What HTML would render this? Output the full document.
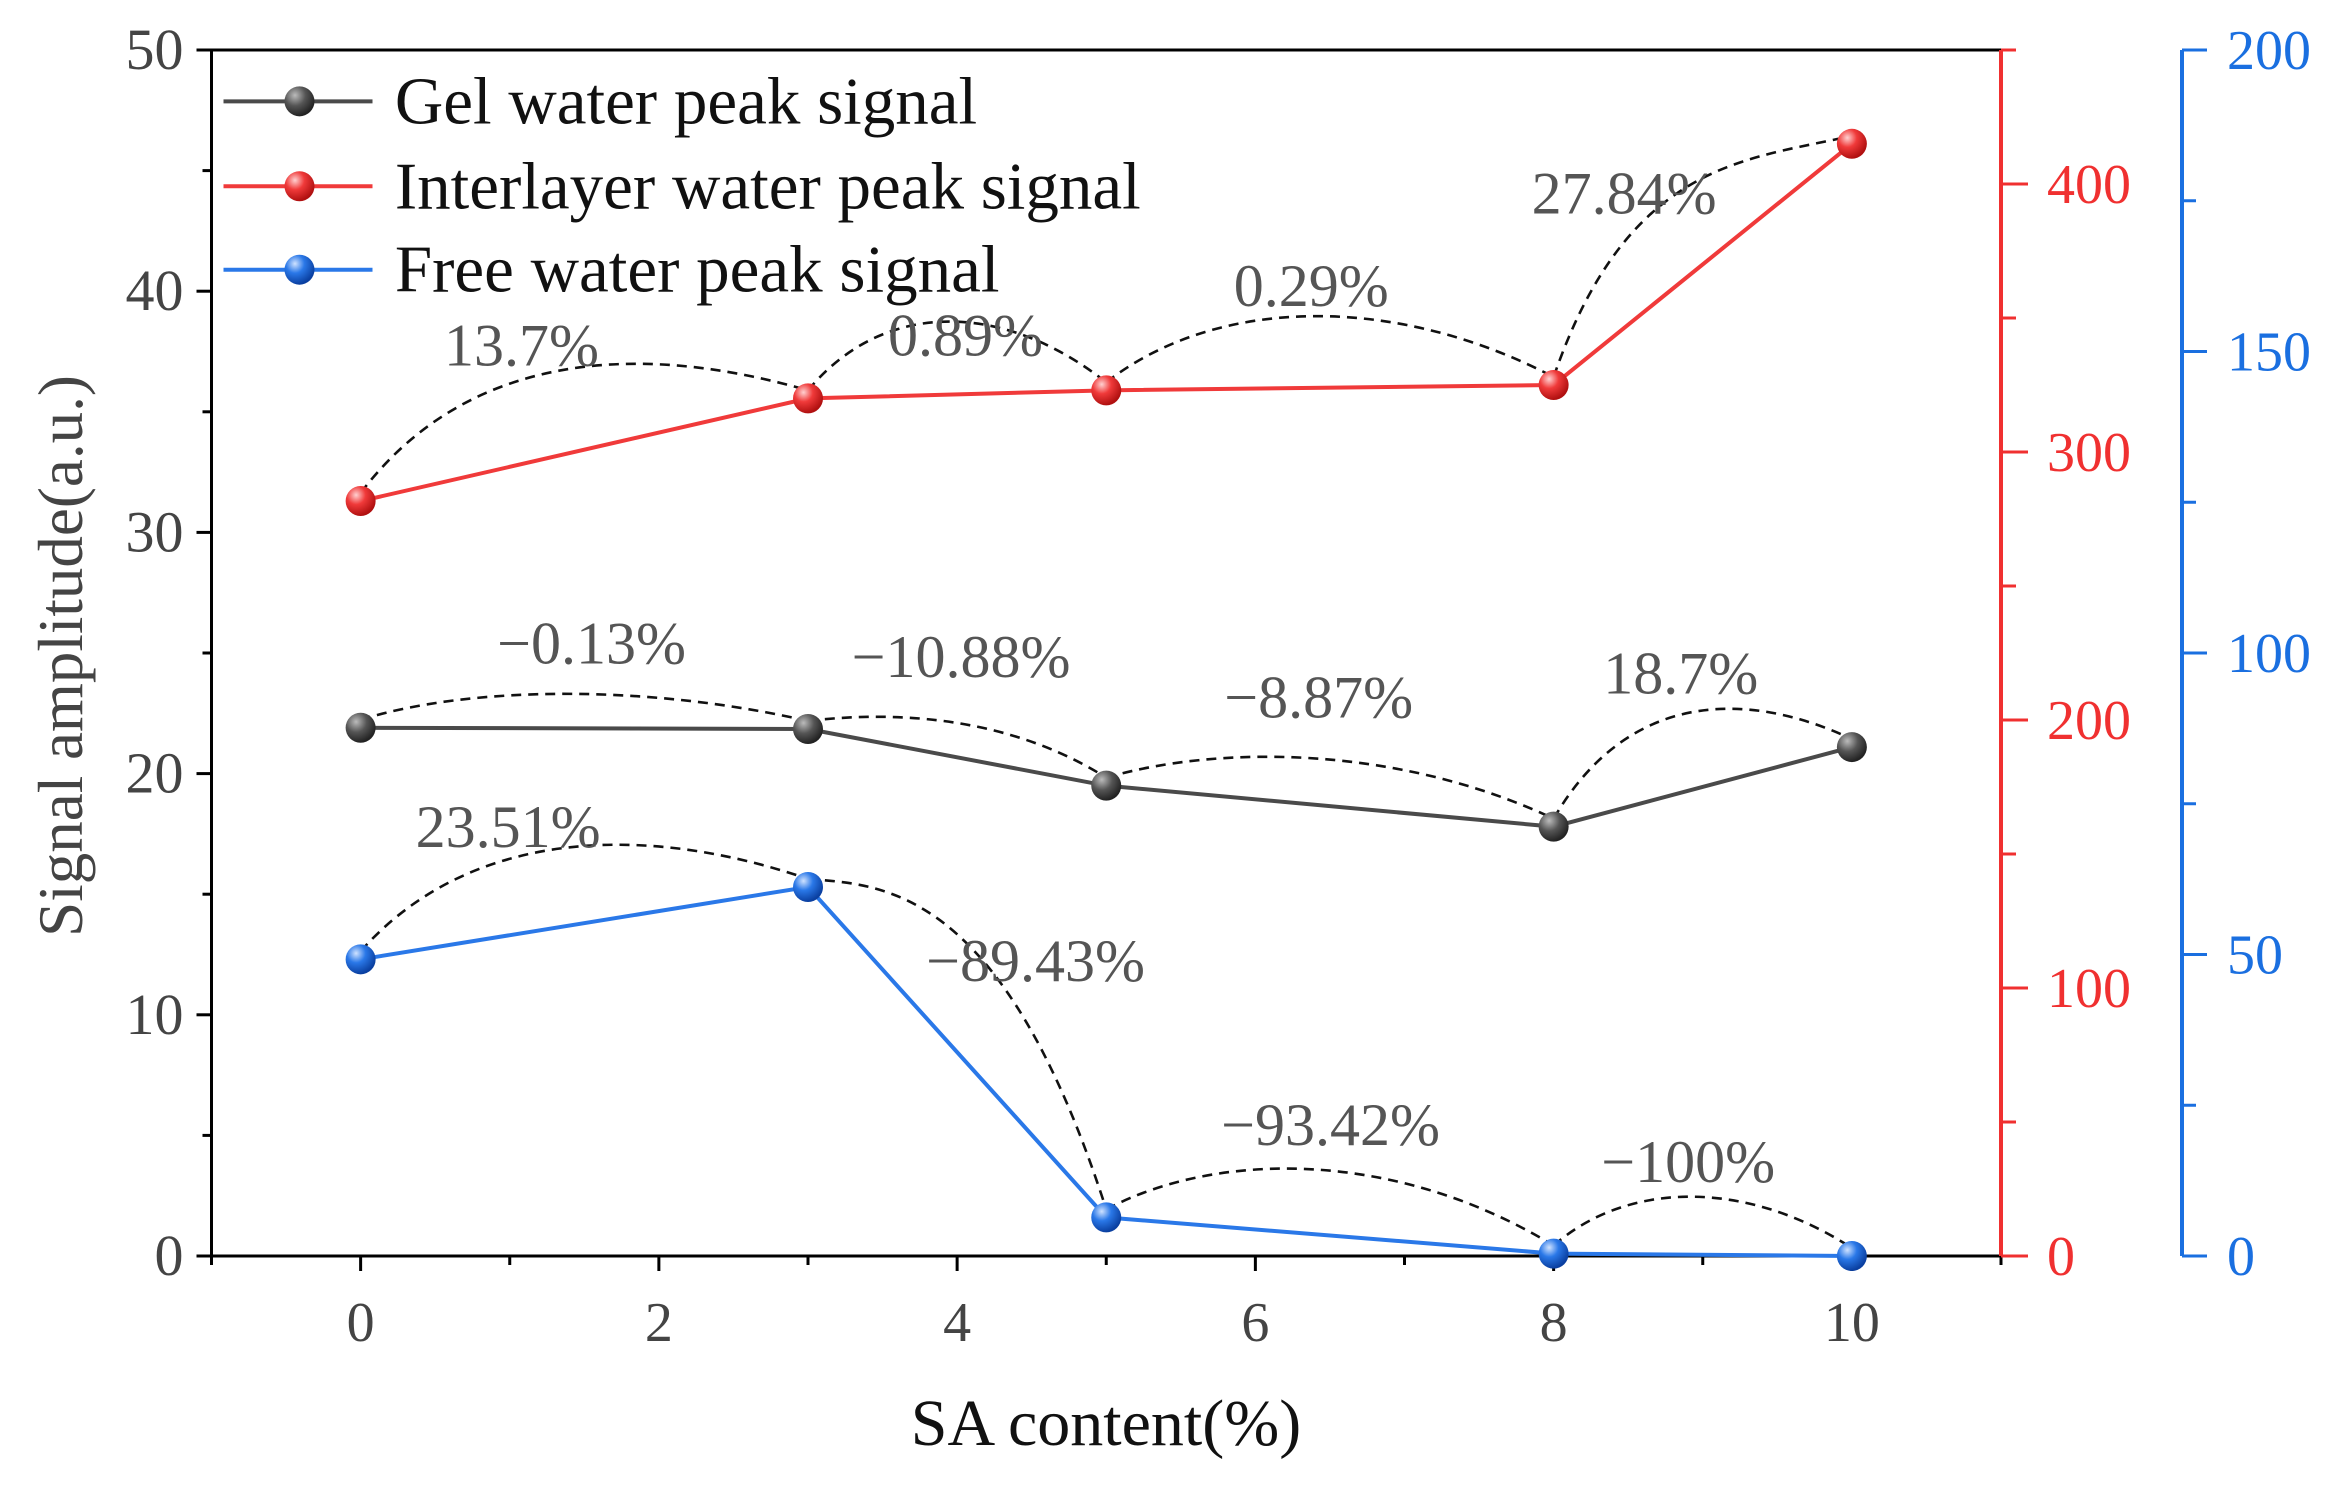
<!DOCTYPE html>
<html><head><meta charset="utf-8"><style>
html,body{margin:0;padding:0;background:#fff}
svg{display:block}
text{font-family:"Liberation Serif",serif}
</style></head><body>
<svg id="chart" width="2336" height="1493" viewBox="0 0 2336 1493" xmlns="http://www.w3.org/2000/svg">
<defs>
<radialGradient id="gGel" cx="35%" cy="30%" r="70%"><stop offset="0" stop-color="#bbb"/><stop offset="0.5" stop-color="#555"/><stop offset="1" stop-color="#222"/></radialGradient>
<radialGradient id="gRed" cx="35%" cy="30%" r="70%"><stop offset="0" stop-color="#ffd0d0"/><stop offset="0.45" stop-color="#f03a3a"/><stop offset="1" stop-color="#b01010"/></radialGradient>
<radialGradient id="gBlue" cx="35%" cy="30%" r="70%"><stop offset="0" stop-color="#cfe2ff"/><stop offset="0.45" stop-color="#2a78e8"/><stop offset="1" stop-color="#0a3fa0"/></radialGradient>
</defs>
<g id="layer"></g>
</svg>
<script>
const xCats = [0, 3, 5, 8, 10];
const gelValues = [21.9, 21.85, 19.5, 17.8, 21.1];
const interlayerValues = [281.7, 320, 323, 325, 415];
const freeValues = [49.2, 61.2, 6.4, 0.4, 0];
const xTicks = [0, 2, 4, 6, 8, 10];
const leftTicks = [0, 10, 20, 30, 40, 50];
const redTicks = [0, 100, 200, 300, 400];
const blueTicks = [0, 50, 100, 150, 200];
const gelLabels = ["−0.13%", "−10.88%", "−8.87%", "18.7%"];
const redLabels = ["13.7%", "0.89%", "0.29%", "27.84%"];
const blueLabels = ["23.51%", "−89.43%", "−93.42%", "−100%"];

const NS = "http://www.w3.org/2000/svg";
const L = 211.5, R = 2001, T = 50, B = 1256, S = 1.49;
const xS = v => L + (v + 1) * (R - L) / 12;
const yL = v => B - v * (B - T) / 50;
const yR = v => B - v * (B - T) / 450;
const yB = v => B - v * (B - T) / 200;
const g = document.getElementById('layer');
function el(tag, attrs, parent) {
  const e = document.createElementNS(NS, tag);
  for (const k in attrs) e.setAttribute(k, attrs[k]);
  (parent || g).appendChild(e);
  return e;
}
function txt(str, x, y, size, fill, anchor, name) {
  const t = el('text', {x: x, y: y, 'font-size': size, fill: fill, 'text-anchor': anchor || 'middle'});
  t.textContent = str;
  
  
  return t;
}
let ln = el('line', {x1: L, y1: T, x2: R, y2: T, stroke: '#000', 'stroke-width': 3});


ln = el('line', {x1: L, y1: T, x2: L, y2: B, stroke: '#000', 'stroke-width': 3});


ln = el('line', {x1: L, y1: B, x2: R, y2: B, stroke: '#000', 'stroke-width': 3});


ln = el('line', {x1: R, y1: T, x2: R, y2: B, stroke: '#f03030', 'stroke-width': 4});


const BX = 2182;
ln = el('line', {x1: BX, y1: T, x2: BX, y2: B, stroke: '#1a6fe0', 'stroke-width': 4});


for (let v = -1; v <= 11; v++) {
  const major = v % 2 === 0;
  el('line', {x1: xS(v), y1: B, x2: xS(v), y2: B + (major ? 15 : 9), stroke: '#000', 'stroke-width': 3});
}
xTicks.forEach(v => txt(String(v), xS(v), B + 85, 56, '#444', 'middle', 'x-tick-label'));
for (let v = 0; v <= 50; v += 5) {
  const major = v % 10 === 0;
  el('line', {x1: L, y1: yL(v), x2: L - (major ? 15 : 9), y2: yL(v), stroke: '#000', 'stroke-width': 3});
}
leftTicks.forEach(v => txt(String(v), L - 28, yL(v) + 19, 58, '#444', 'end', 'left-tick-label'));
for (let v = 0; v <= 450; v += 50) {
  const major = v % 100 === 0;
  el('line', {x1: R, y1: yR(v), x2: R + (major ? 27 : 15), y2: yR(v), stroke: '#f03030', 'stroke-width': 3});
}
redTicks.forEach(v => txt(String(v), 2047, yR(v) + 19, 56, '#f03030', 'start', 'red-tick-label'));
for (let v = 0; v <= 200; v += 25) {
  const major = v % 50 === 0;
  el('line', {x1: BX, y1: yB(v), x2: BX + (major ? 25 : 14), y2: yB(v), stroke: '#1a6fe0', 'stroke-width': 3});
}
blueTicks.forEach(v => txt(String(v), 2227, yB(v) + 19, 56, '#1a6fe0', 'start', 'blue-tick-label'));
txt('SA content(%)', 1106, 1445, 66, '#111', 'middle', 'x-axis-title');
let yt = txt('Signal amplitude(a.u.)', 0, 0, 63, '#444', 'middle', 'y-axis-title');
yt.setAttribute('transform', 'translate(82,656) rotate(-90)');

function arc(xa, ya, xb, yb, peak, name) {
  const dx = xb - xa;
  const d = `M${xa},${ya - 8} C${xa + 0.25 * dx},${peak} ${xa + 0.65 * dx},${peak} ${xb},${yb - 8}`;
  const p = el('path', {d: d, fill: 'none', stroke: '#111', 'stroke-width': 2.6, 'stroke-dasharray': '10 7'});
  
  
}
const redPeaks = [345, 300, 295, 160];
const gelPeaks = [685, 712, 745, 690];
const bluePeaks = [825, 885, 1150, 1180];
for (let i = 0; i < 4; i++) {
  arc(xS(xCats[i]), yR(interlayerValues[i]), xS(xCats[i + 1]), yR(interlayerValues[i + 1]), redPeaks[i], 'interlayer-change-arc');
  arc(xS(xCats[i]), yL(gelValues[i]), xS(xCats[i + 1]), yL(gelValues[i + 1]), gelPeaks[i], 'gel-change-arc');
  arc(xS(xCats[i]), yB(freeValues[i]), xS(xCats[i + 1]), yB(freeValues[i + 1]), bluePeaks[i], 'free-change-arc');
}
const redLabPos = [[350, 232], [648, 225], [880, 192], [1090, 130]];
const gelLabPos = [[397, 432], [645, 441], [885, 468], [1128, 452]];
const blueLabPos = [[341, 555], [695, 645], [893, 755], [1133, 780]];
function labs(arr, pos, name) {
  arr.forEach((s, i) => txt(s, pos[i][0] * S, pos[i][1] * S + 20, 60, '#555', 'middle', name));
}
labs(redLabels, redLabPos, 'interlayer-change-label');
labs(gelLabels, gelLabPos, 'gel-change-label');
labs(blueLabels, blueLabPos, 'free-change-label');

function series(vals, yf, color, grad, name) {
  const pts = vals.map((v, i) => xS(xCats[i]) + ',' + yf(v)).join(' ');
  const pl = el('polyline', {points: pts, fill: 'none', stroke: color, 'stroke-width': 4});
  
  
  vals.forEach((v, i) => {
    const c = el('circle', {cx: xS(xCats[i]), cy: yf(v), r: 15, fill: 'url(#' + grad + ')'});
    
    
  });
}
series(gelValues, yL, '#4a4a4a', 'gGel', 'gel-series');
series(interlayerValues, yR, '#f03a3a', 'gRed', 'interlayer-series');
series(freeValues, yB, '#2a78e8', 'gBlue', 'free-series');

const legNames = ['Gel water peak signal', 'Interlayer water peak signal', 'Free water peak signal'];
const legColors = ['#4a4a4a', '#f03a3a', '#2a78e8'];
const legGrads = ['gGel', 'gRed', 'gBlue'];
const legRows = [68, 125, 181];
legNames.forEach((n, i) => {
  const y = legRows[i] * S;
  const grp = el('g', {});
  
  
  el('line', {x1: 150 * S, y1: y, x2: 250 * S, y2: y, stroke: legColors[i], 'stroke-width': 4}, grp);
  el('circle', {cx: 201 * S, cy: y, r: 15, fill: 'url(#' + legGrads[i] + ')'}, grp);
  const t = el('text', {x: 265 * S, y: y + 22, 'font-size': 67, fill: '#111'}, grp);
  t.textContent = n;
  
  
});
</script>
</body></html>
